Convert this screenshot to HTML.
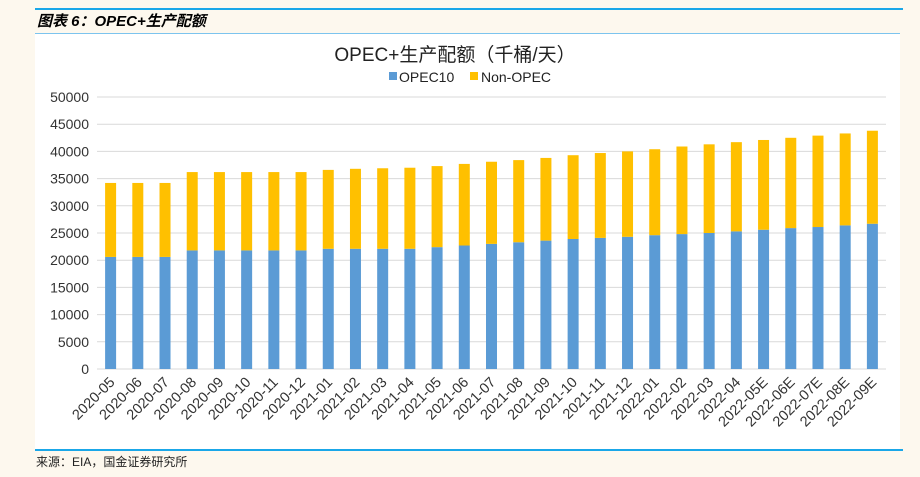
<!DOCTYPE html>
<html><head><meta charset="utf-8">
<style>
body{margin:0;width:920px;height:477px;background:#fdf8ee;position:relative;overflow:hidden;font-family:"Liberation Sans","Noto Sans CJK SC",sans-serif;}
.abs{position:absolute;}
</style></head>
<body>
<div class="abs" style="left:35px;top:8px;width:868px;height:2px;background:#1aa7e8"></div>
<div class="abs" style="left:37px;top:10px;font-size:15px;font-weight:bold;font-style:italic;color:#000;font-family:'Liberation Sans','Noto Sans CJK SC',sans-serif;">图表 6：OPEC+生产配额</div>
<div class="abs" style="left:35px;top:33px;width:865px;height:417px;background:#fff;border-top:1px solid #7cc4ee"></div>
<div class="abs" style="left:35px;top:449px;width:868px;height:2px;background:#1aa7e8"></div>
<div class="abs" style="left:36px;top:453px;font-size:12px;color:#222;">来源：EIA，国金证券研究所</div>
<svg class="abs" style="left:0;top:0" width="920" height="477" id="chart">
<text x="455" y="61" text-anchor="middle" font-size="19" fill="#222">OPEC+生产配额（千桶/天）</text>
<rect x="389" y="72" width="8" height="8" fill="#5b9bd5"/>
<text x="399" y="82" font-size="14" fill="#222">OPEC10</text>
<rect x="470" y="72" width="8" height="8" fill="#ffc000"/>
<text x="481" y="82" font-size="14" fill="#222">Non-OPEC</text>
<g id="plot"></g>
</svg>
<script>
const categories=["2020-05","2020-06","2020-07","2020-08","2020-09","2020-10","2020-11","2020-12","2021-01","2021-02","2021-03","2021-04","2021-05","2021-06","2021-07","2021-08","2021-09","2021-10","2021-11","2021-12","2022-01","2022-02","2022-03","2022-04","2022-05E","2022-06E","2022-07E","2022-08E","2022-09E"];
const opec10=[20600,20600,20600,21800,21800,21800,21800,21800,22100,22100,22100,22100,22400,22700,23000,23300,23600,23900,24100,24300,24600,24800,25000,25300,25600,25900,26100,26400,26700];
const nonOpec=[13600,13600,13600,14400,14400,14400,14400,14400,14500,14700,14800,14900,14900,15000,15100,15100,15200,15400,15600,15700,15800,16100,16300,16400,16500,16600,16800,16900,17100];
const yTicks=[0,5000,10000,15000,20000,25000,30000,35000,40000,45000,50000];
const NS="http://www.w3.org/2000/svg";
const g=document.getElementById('plot');
const x0=97,x1=886,yBase=369,yTop=97,yMax=50000;
const y=v=>yBase-(v/yMax)*(yBase-yTop);
const step=(x1-x0)/categories.length;
const xc=i=>x0+step*(i+0.5);
function el(t,a){const e=document.createElementNS(NS,t);for(const k in a)e.setAttribute(k,a[k]);g.appendChild(e);return e;}
yTicks.forEach(t=>{
  const l=el('line',{x1:x0,x2:x1,y1:y(t),y2:y(t),stroke:'#d9d9d9','stroke-width':1});
  
  
  const tx=el('text',{x:x0-8,y:y(t)+5,'text-anchor':'end','font-size':14,fill:'#333'});
  tx.textContent=t;
  
  
});
const bw=11;
categories.forEach((c,i)=>{
  const b1=el('rect',{x:xc(i)-bw/2,y:y(opec10[i]),width:bw,height:yBase-y(opec10[i]),fill:'#5b9bd5'});
  
  
  const b2=el('rect',{x:xc(i)-bw/2,y:y(opec10[i]+nonOpec[i]),width:bw,height:y(opec10[i])-y(opec10[i]+nonOpec[i]),fill:'#ffc000'});
  
  
  const tx=el('text',{x:xc(i)+5,y:yBase+14,'text-anchor':'end','font-size':14.5,fill:'#333',transform:`rotate(-45 ${xc(i)+5} ${yBase+14})`});
  tx.textContent=c;
  
  
});
</script>
</body></html>
